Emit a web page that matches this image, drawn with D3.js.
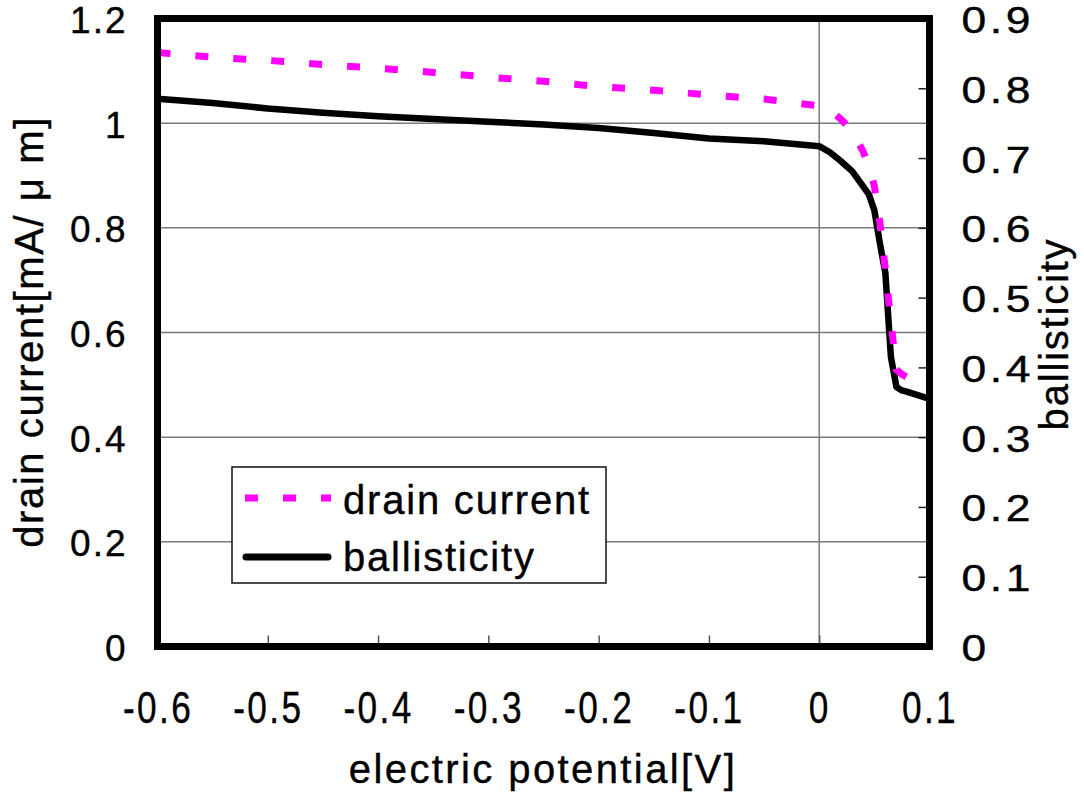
<!DOCTYPE html>
<html>
<head>
<meta charset="utf-8">
<script src="https://cdn.jsdelivr.net/npm/d3@7"></script>
<style>
  html, body { margin: 0; padding: 0; background: #fff; }
  svg { display: block; }
  text { font-family: "Liberation Sans", Arial, sans-serif; fill: #000; stroke: #000; stroke-width: 0.4px; }
</style>
</head>
<body>
<svg id="chart" width="1084" height="793"></svg>
<script>
// ---------- data ----------
const potential = [-0.6, -0.55, -0.5, -0.45, -0.4, -0.35, -0.3, -0.25, -0.2, -0.15, -0.1, -0.05, 0,
  0.01, 0.02, 0.03, 0.04, 0.045, 0.05, 0.055, 0.06, 0.065, 0.07, 0.075, 0.08, 0.09, 0.1];
const drainCurrent = [1.135, 1.126, 1.120, 1.112, 1.105, 1.097, 1.088, 1.080, 1.070, 1.063, 1.054, 1.046, 1.033,
  1.025, 1.007, 0.985, 0.945, 0.918, 0.880, 0.810, 0.720, 0.620, 0.529, 0.520, 0.514, 0.509, 0.505];
const ballisticity = [0.785, 0.779, 0.771, 0.765, 0.760, 0.756, 0.752, 0.748, 0.743, 0.736, 0.728, 0.724, 0.717,
  0.708, 0.695, 0.681, 0.659, 0.648, 0.625, 0.578, 0.535, 0.415, 0.372, 0.367, 0.365, 0.360, 0.355];
const xTicks = [-0.6, -0.5, -0.4, -0.3, -0.2, -0.1, 0, 0.1];
const leftTicks = [0, 0.2, 0.4, 0.6, 0.8, 1, 1.2];
const rightTicks = [0, 0.1, 0.2, 0.3, 0.4, 0.5, 0.6, 0.7, 0.8, 0.9];
const seriesNames = ["drain current", "ballisticity"];
const xTitle = "electric potential[V]";
const yLeftTitle = "drain current[mA/ μ m]";
const yRightTitle = "ballisticity";

// ---------- layout ----------
const svg = d3.select("#chart");
const L = 157.5, R = 929.5, T = 18.5, B = 646.5;
const x = d3.scaleLinear().domain([-0.6, 0.1]).range([L, R]);
const yL = d3.scaleLinear().domain([0, 1.2]).range([B, T]);
const yR = d3.scaleLinear().domain([0, 0.9]).range([B, T]);

svg.append("rect").attr("width", 1084).attr("height", 793).attr("fill", "#fff");

// gridlines
const grid = svg.append("g");
grid.selectAll("line.h").data(leftTicks.filter(d => d > 0 && d < 1.2)).enter().append("line")
  .attr("x1", L).attr("x2", R).attr("y1", d => yL(d)).attr("y2", d => yL(d))
  .attr("stroke", "#7a7a7a").attr("stroke-width", 1.5);
grid.append("line").attr("x1", x(0)).attr("x2", x(0)).attr("y1", T).attr("y2", B)
  .attr("stroke", "#7a7a7a").attr("stroke-width", 1.5);

// bottom axis (ticks inward)
const gx = svg.append("g").attr("transform", `translate(0,${B})`)
  .call(d3.axisBottom(x).tickValues(xTicks).tickSize(-11));
gx.select(".domain").remove();
gx.selectAll(".tick line").attr("stroke", "#555").attr("stroke-width", 1.5);
gx.selectAll(".tick text")
  .attr("y", 0).attr("dy", 0)
  .attr("transform", "translate(0,76) scale(0.8,1)")
  .attr("font-size", 44).attr("letter-spacing", 3)
  .attr("text-anchor", "middle")
  .text(d => (d < 0 ? "-" : "") + Math.abs(+d.toFixed(1)).toString());

// left axis labels
const gl = svg.append("g").attr("transform", `translate(${L},0)`)
  .call(d3.axisLeft(yL).tickValues(leftTicks).tickSize(0).tickFormat(d => String(+d.toFixed(1))));
gl.select(".domain").remove();
gl.selectAll(".tick text")
  .attr("x", -30).attr("dy", 14)
  .attr("font-size", 37).attr("letter-spacing", 2).attr("text-anchor", "end");

// right axis (ticks inward)
const gr = svg.append("g").attr("transform", `translate(${R},0)`)
  .call(d3.axisRight(yR).tickValues(rightTicks).tickSize(-11).tickFormat(d => String(+d.toFixed(1))));
gr.select(".domain").remove();
gr.selectAll(".tick line").attr("stroke", "#222").attr("stroke-width", 1.5);
gr.selectAll(".tick text")
  .attr("x", 0).attr("dy", 0)
  .attr("transform", "translate(32,14) scale(1.2,1)")
  .attr("font-size", 37).attr("letter-spacing", 3).attr("text-anchor", "start");

// series
const pts = potential.map((p, i) => ({p, dc: drainCurrent[i], b: ballisticity[i]}));
svg.append("path").datum(pts)
  .attr("d", d3.line().x(d => x(d.p)).y(d => yR(d.b)))
  .attr("fill", "none").attr("stroke", "#000").attr("stroke-width", 6.5)
  .attr("stroke-linejoin", "round");
svg.append("path").datum(pts)
  .attr("d", d3.line().x(d => x(d.p)).y(d => yL(d.dc)))
  .attr("fill", "none").attr("stroke", "#ff00ff").attr("stroke-width", 7)
  .attr("stroke-dasharray", "13,25");

// plot border
svg.append("rect").attr("x", L).attr("y", T).attr("width", R - L).attr("height", B - T)
  .attr("fill", "none").attr("stroke", "#000").attr("stroke-width", 7);

// axis titles
svg.append("text").attr("transform", `translate(543,783)`)
  .attr("text-anchor", "middle").attr("font-size", 40).attr("letter-spacing", 2.4)
  .text(xTitle);
svg.append("text").attr("transform", `translate(43,332) rotate(-90)`)
  .attr("text-anchor", "middle").attr("font-size", 40).attr("letter-spacing", 1.6)
  .text(yLeftTitle);
svg.append("text").attr("transform", `translate(1068,334) rotate(-90)`)
  .attr("text-anchor", "middle").attr("font-size", 40).attr("letter-spacing", 1.8)
  .text(yRightTitle);

// legend
const lg = svg.append("g");
lg.append("rect").attr("x", 232).attr("y", 467).attr("width", 374).attr("height", 116)
  .attr("fill", "#fff").attr("stroke", "#111").attr("stroke-width", 1.5);
lg.append("line").attr("x1", 245).attr("x2", 331).attr("y1", 498).attr("y2", 498)
  .attr("stroke", "#ff00ff").attr("stroke-width", 7).attr("stroke-dasharray", "13,25");
lg.append("line").attr("x1", 246).attr("x2", 328).attr("y1", 557).attr("y2", 557)
  .attr("stroke", "#000").attr("stroke-width", 7).attr("stroke-linecap", "round");
lg.selectAll("text.leg").data(seriesNames).enter().append("text")
  .attr("x", 343).attr("y", (d, i) => 514 + i * 57)
  .attr("font-size", 40).attr("letter-spacing", 1.8)
  .text(d => d);
</script>
</body>
</html>
